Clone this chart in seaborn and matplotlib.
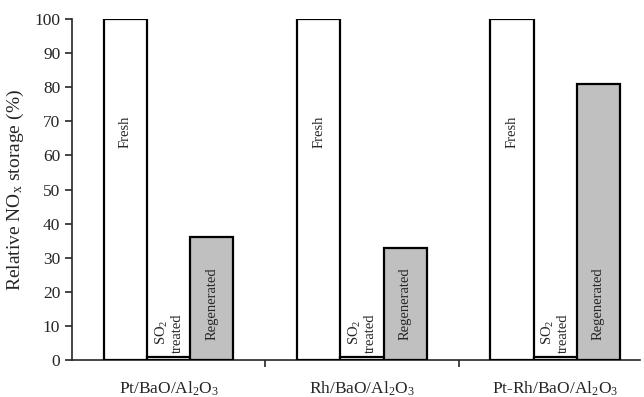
import matplotlib
matplotlib.use("Agg")
import matplotlib.pyplot as plt
import seaborn as sns
import pandas as pd

groups = ["Pt/BaO/Al$_2$O$_3$", "Rh/BaO/Al$_2$O$_3$", "Pt-Rh/BaO/Al$_2$O$_3$"]
conditions = ["Fresh", "SO2 treated", "Regenerated"]
fresh = [100, 100, 100]
so2_treated = [1, 1, 1]
regenerated = [36, 33, 81]

rows = []
for g, a, b, c in zip(groups, fresh, so2_treated, regenerated):
    rows += [(g, conditions[0], a), (g, conditions[1], b), (g, conditions[2], c)]
df = pd.DataFrame(rows, columns=["group", "condition", "value"])

sns.set_style("ticks")
plt.rcParams["font.family"] = ["Liberation Serif", "DejaVu Serif"]
plt.rcParams["mathtext.fontset"] = "custom"
plt.rcParams["mathtext.rm"] = "Liberation Serif"
plt.rcParams["mathtext.it"] = "Liberation Serif:italic"

fig = plt.figure(figsize=(6.44, 3.97), dpi=100)
ax = fig.add_axes([0.112, 0.093, 0.882, 0.859])

sns.barplot(data=df, x="group", y="value", hue="condition", hue_order=conditions,
            palette=["white", "white", "#c0c0c0"], width=0.67, gap=0,
            edgecolor="black", linewidth=1.6, legend=False, ax=ax, zorder=3)

ax.set_ylim(0, 100)
ax.set_xlim(-0.5, 2.44)
ax.set_yticks(range(0, 101, 10))
ax.set_xticks(range(3))
ax.set_xticklabels(groups, fontsize=12.5)
ax.tick_params(axis="x", length=0, pad=14)
ax.set_xticks([0.5, 1.5], minor=True)
ax.tick_params(axis="x", which="minor", length=5, width=1.2, direction="out")
ax.tick_params(axis="y", labelsize=12.5, length=5, width=1.2, direction="out")
ax.set_xlabel("")
ax.set_ylabel("Relative NO$_\\mathrm{x}$ storage (%)", fontsize=14, labelpad=6)
for s in ["top", "right"]:
    ax.spines[s].set_visible(False)
for s in ["left", "bottom"]:
    ax.spines[s].set_linewidth(1.2)

# bar-internal labels
patches = sorted(ax.patches, key=lambda p: p.get_x())
for i, p in enumerate(patches):
    cx = p.get_x() + p.get_width() / 2
    kind = i % 3
    if kind == 0:
        ax.text(cx, 67, "Fresh", rotation=90, ha="center", va="center", fontsize=10.5, zorder=4)
    elif kind == 1:
        ax.text(cx - 0.035, 8, "SO$_2$", rotation=90, ha="center", va="center", fontsize=10.5, zorder=4)
        ax.text(cx + 0.045, 8, "treated", rotation=90, ha="center", va="center", fontsize=10.5, zorder=4)
    else:
        ax.text(cx, 16.5, "Regenerated", rotation=90, ha="center", va="center", fontsize=10.5, zorder=4)

fig.savefig("out.png", dpi=100)
